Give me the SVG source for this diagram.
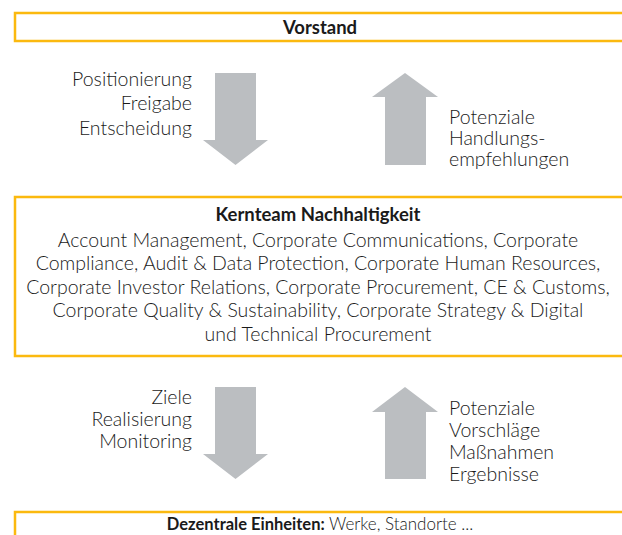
<svg xmlns="http://www.w3.org/2000/svg" width="622" height="535" viewBox="0 0 622 535">
<style>
.box{fill:#fff;stroke:#FBB90F;stroke-width:2.5}
.arr{fill:#BBBEC1}
text{font-family:Lato,"Open Sans","Liberation Sans",sans-serif;font-size:19.5px;font-weight:300;fill:#1a1a1a}
.b{font-weight:bold;font-size:18.5px}
.c{text-anchor:middle}
.r{text-anchor:end}
.s{font-size:17px}
.sb{font-weight:bold;font-size:16.5px}
</style>
<g id="vorstand">
<rect class="box" x="15" y="13" width="630" height="28"/>
<text class="c b" x="320" y="34">Vorstand</text>
</g>
<g id="kernteam">
<rect class="box" x="15" y="197" width="630" height="159"/>
<text class="c b" x="318" y="221">Kernteam Nachhaltigkeit</text>
<text class="c" x="318" y="247">Account Management, Corporate Communications, Corporate</text>
<text class="c" x="318" y="270">Compliance, Audit &amp; Data Protection, Corporate Human Resources,</text>
<text class="c" x="318" y="294">Corporate Investor Relations, Corporate Procurement, CE &amp; Customs,</text>
<text class="c" x="318" y="317">Corporate Quality &amp; Sustainability, Corporate Strategy &amp; Digital</text>
<text class="c" x="318" y="341">und Technical Procurement</text>
</g>
<g id="dezentrale">
<rect class="box" x="15" y="512" width="630" height="40"/>
<text class="c s" x="320" y="530"><tspan class="sb">Dezentrale Einheiten:</tspan> Werke, Standorte ...</text>
</g>
<g id="connectors">
<polygon class="arr" points="215,73 256,73 256,140 268,140 235.5,165 203,140 215,140"/>
<polygon class="arr" points="405,73 438,97 426,97 426,165 385,165 385,97 372,97"/>
<polygon class="arr" points="215,387 256,387 256,454 268,454 235.5,479 203,454 215,454"/>
<polygon class="arr" points="405,387 438,412 426,412 426,479 385,479 385,412 372,412"/>
<text class="r" x="192" y="86">Positionierung</text>
<text class="r" x="192" y="110">Freigabe</text>
<text class="r" x="192" y="135">Entscheidung</text>
<text x="449" y="124">Potenziale</text>
<text x="449" y="145">Handlungs-</text>
<text x="449" y="166">empfehlungen</text>
<text class="r" x="192" y="404">Ziele</text>
<text class="r" x="192" y="426">Realisierung</text>
<text class="r" x="192" y="448">Monitoring</text>
<text x="449" y="415">Potenziale</text>
<text x="449" y="437">Vorschläge</text>
<text x="449" y="459">Maßnahmen</text>
<text x="449" y="481">Ergebnisse</text>
</g>
</svg>
